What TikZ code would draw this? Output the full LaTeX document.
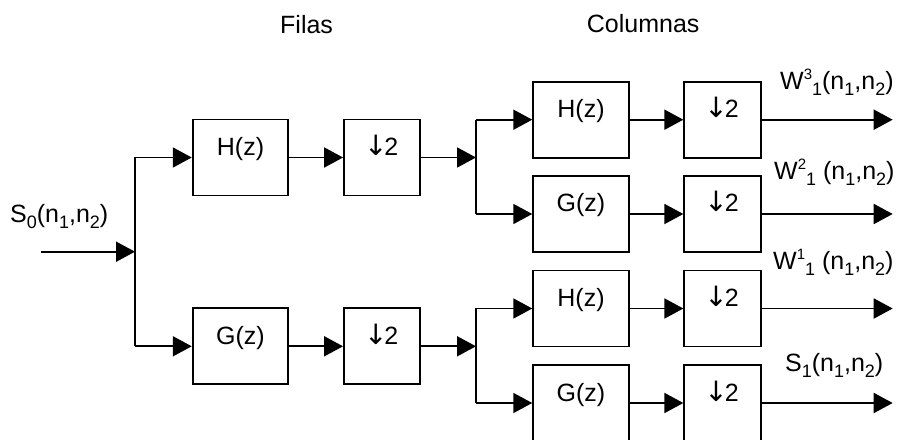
\documentclass[tikz,border=0pt]{standalone}
\usepackage{fontspec}
\setmainfont{Liberation Sans}
\newfontfamily\arwfont{DejaVu Sans}
\usetikzlibrary{arrows.meta}
% lowered and raised indices for the signal names
\newcommand\lo[1]{\raisebox{-0.22em}{\fontsize{18}{18}\selectfont #1}}
\newcommand\hi[1]{\raisebox{0.4em}{\fontsize{15}{15}\selectfont #1}}
% downsampling symbol
\newcommand\down{{\arwfont\fontsize{28}{30}\selectfont\kern-2pt↓\kern-3pt}2}
\tikzset{
  wire/.style={line width=1.9pt},
  arr/.style={wire,-{Triangle[length=19pt,width=20pt]}},
  blk/.style={draw,line width=1.9pt,inner sep=0pt,minimum height=76pt,
              text height=10pt,text depth=14pt,font=\fontsize{25}{30}\selectfont},
  filt/.style={blk,minimum width=95.6pt},
  dec/.style={blk,minimum width=76.4pt},
  txt/.style={anchor=base west,inner sep=0pt,font=\fontsize{25}{30}\selectfont},
}
\begin{document}
\begin{tikzpicture}[x=1pt,y=1pt]
\useasboundingbox (0,0) rectangle (901,439);
\clip (0,0) rectangle (901,439);

% column titles
\node[txt] (tf) at (280,405.7) {Filas};
\node[txt] (tc) at (586.7,406) {Columnas};

% row stage
\node[filt] (H1) at (240.5,281.5) {H(z)};
\node[dec]  (D1) at (382.2,281.5) {\down};
\node[filt] (G1) at (240.5,92.7) {G(z)};
\node[dec]  (D2) at (382.2,92.7) {\down};

% column stage
\node[filt] (H2) at (581,319.3) {H(z)};
\node[dec]  (D3) at (722.5,319.3) {\down};
\node[filt] (G2) at (581,225) {G(z)};
\node[dec]  (D4) at (722.5,225) {\down};
\node[filt] (H3) at (581,130.5) {H(z)};
\node[dec]  (D5) at (722.5,130.5) {\down};
\node[filt] (G3) at (581,36) {G(z)};
\node[dec]  (D6) at (722.5,36) {\down};

% input and branch points
\coordinate (in) at (41,187.3);
\coordinate (j1) at (135,187.3);
\coordinate (j2) at (476,281.5);
\coordinate (j3) at (476,92.7);
\coordinate (xo) at (892.7,0);

% input signal
\node[txt] (s0) at (10,216.3) {S\lo{0}(n\lo{1},n\lo{2})};
\draw[arr] (in) -- (j1);
\draw[wire] (H1.west -| j1) -- (G1.west -| j1);
\draw[arr] (H1.west -| j1) -- (H1.west);
\draw[arr] (G1.west -| j1) -- (G1.west);

% row filters
\draw[arr] (H1) -- (D1);
\draw[arr] (G1) -- (D2);
\draw[arr] (D1.east) -- (j2);
\draw[arr] (D2.east) -- (j3);

% upper column branch
\draw[wire] (H2.west -| j2) -- (G2.west -| j2);
\draw[arr] (H2.west -| j2) -- (H2.west);
\draw[arr] (G2.west -| j2) -- (G2.west);
\draw[arr] (H2) -- (D3);
\draw[arr] (G2) -- (D4);

% lower column branch
\draw[wire] (H3.west -| j3) -- (G3.west -| j3);
\draw[arr] (H3.west -| j3) -- (H3.west);
\draw[arr] (G3.west -| j3) -- (G3.west);
\draw[arr] (H3) -- (D5);
\draw[arr] (G3) -- (D6);

% outputs
\draw[arr] (D3.east) -- (D3.east -| xo);
\draw[arr] (D4.east) -- (D4.east -| xo);
\draw[arr] (D5.east) -- (D5.east -| xo);
\draw[arr] (D6.east) -- (D6.east -| xo);

\node[txt] (w3) at (780,349) {W\hi{3}\lo{1}(n\lo{1},n\lo{2})};
\node[txt] (w2) at (774,259) {W\hi{2}\lo{1} (n\lo{1},n\lo{2})};
\node[txt] (w1) at (773,169) {W\hi{1}\lo{1} (n\lo{1},n\lo{2})};
\node[txt] (s1) at (785,67.3) {S\lo{1}(n\lo{1},n\lo{2})};
\end{tikzpicture}
\end{document}
